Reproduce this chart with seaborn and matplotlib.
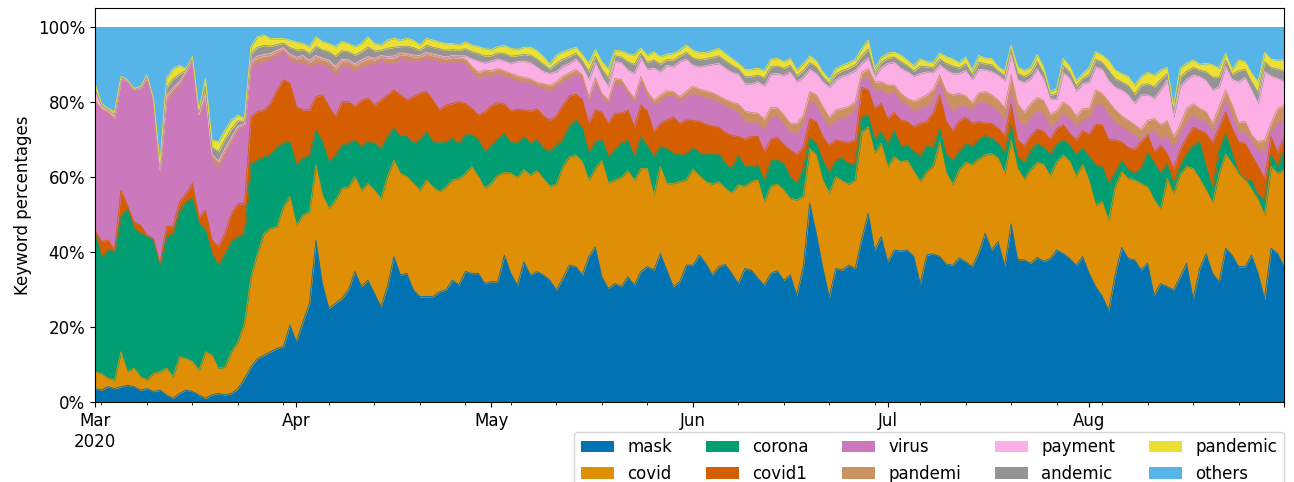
import numpy as np
import pandas as pd
import matplotlib
matplotlib.use("Agg")
import matplotlib.pyplot as plt
from matplotlib.patches import Patch
from matplotlib.ticker import PercentFormatter
import seaborn as sns

dates = pd.date_range("2020-03-01", "2020-08-31", freq="D")

keywords = ["mask", "covid", "corona", "covid1", "virus",
            "pandemi", "payment", "andemic", "pandemic", "others"]

# upper edge of the five big bands (cumulative %), one row per month
mask_top = [
    3.6, 3.2, 4.1, 3.6, 4.1, 4.5, 4.1, 3.2, 3.6, 2.8, 3.2, 1.9, 1.0, 2.3, 3.2, 2.8, 1.9, 1.0, 1.9, 2.3, 1.9, 2.3, 3.6, 6.3, 9.4, 11.6, 12.5, 13.4, 14.3, 14.8, 20.5, 16.1,
    21.4, 26.3, 43.2, 31.6, 25.0, 26.3, 27.6, 29.9, 34.8, 30.8, 32.5, 29.0, 25.4, 30.8, 38.8, 33.9, 34.3, 29.9, 28.1, 28.1, 28.1, 29.4, 29.9, 32.5, 31.2, 34.8, 34.3, 34.3, 31.6,
    32.1, 32.1, 39.2, 34.3, 31.2, 37.4, 33.9, 34.8, 33.9, 32.5, 29.9, 33.0, 36.5, 36.1, 33.9, 38.8, 41.4, 33.4, 30.3, 31.6, 30.8, 33.4, 31.2, 34.8, 36.1, 35.2, 39.6, 35.2, 30.8, 32.1, 36.5,
    36.5, 39.2, 37.0, 33.9, 36.1, 36.7, 34.3, 31.6, 35.6, 35.2, 33.0, 31.2, 34.3, 35.0, 32.5, 33.9, 28.5, 36.1, 53.0, 45.0, 36.0, 28.1, 35.6, 35.2, 36.5, 35.6, 43.6, 50.3, 40.5, 44.1,
    37.4, 40.5, 40.3, 40.5, 38.9, 31.6, 39.2, 39.5, 38.8, 36.8, 36.5, 38.4, 37.4, 36.1, 39.8, 45.0, 40.5, 42.8, 36.3, 47.5, 38.0, 37.9, 37.0, 38.6, 37.5, 38.3, 40.5, 39.6, 38.3, 36.5, 38.8, 34.3,
    30.8, 28.3, 24.5, 33.9, 41.2, 38.3, 37.9, 35.2, 37.0, 28.5, 31.6, 30.8, 29.9, 33.4, 37.0, 27.6, 35.6, 39.6, 34.3, 32.1, 41.0, 39.2, 36.1, 36.1, 39.2, 34.3, 27.6, 41.0, 39.6, 36.1,
]
covid_top = [
    8.1, 7.6, 6.3, 5.9, 13.4, 8.1, 9.0, 6.8, 5.9, 7.6, 8.1, 9.0, 6.8, 12.1, 11.6, 10.8, 8.5, 13.4, 12.5, 9.0, 9.4, 13.4, 16.1, 21.0, 33.4, 39.6, 45.0, 46.3, 46.8, 52.1, 54.8, 47.2,
    49.9, 50.8, 63.2, 55.2, 51.6, 53.9, 57.0, 57.4, 60.1, 56.5, 58.3, 56.5, 54.3, 60.1, 64.5, 61.0, 60.1, 58.3, 56.5, 59.2, 57.4, 56.1, 57.4, 59.2, 59.6, 61.0, 62.8, 60.1, 57.0,
    58.5, 60.5, 61.2, 61.0, 59.9, 62.0, 60.5, 61.7, 59.6, 57.6, 58.1, 62.8, 65.4, 65.9, 64.1, 59.2, 62.3, 64.4, 58.5, 59.2, 59.9, 61.7, 59.2, 62.3, 62.3, 55.2, 62.8, 58.3, 58.3, 58.8, 59.2,
    62.1, 60.3, 58.8, 58.1, 58.8, 57.0, 55.8, 57.9, 57.6, 58.8, 59.2, 53.4, 57.6, 58.1, 56.5, 54.3, 53.9, 54.8, 67.6, 65.9, 59.2, 55.8, 60.1, 59.0, 58.1, 59.2, 72.1, 73.4, 66.5, 69.0,
    62.8, 65.4, 64.1, 64.4, 61.6, 58.8, 61.4, 62.9, 69.4, 61.2, 58.1, 62.0, 63.9, 63.4, 64.8, 65.9, 66.3, 65.0, 61.0, 69.9, 62.3, 59.4, 62.1, 63.9, 63.4, 60.3, 64.1, 65.9, 64.2, 60.3, 63.4, 59.0,
    52.5, 53.4, 48.5, 57.4, 61.4, 59.6, 59.2, 58.3, 57.4, 54.0, 51.4, 59.6, 55.6, 60.8, 62.8, 62.3, 59.6, 56.5, 53.2, 61.0, 66.1, 63.6, 61.2, 59.4, 56.7, 54.0, 49.9, 62.8, 61.0, 61.9,
]
corona_top = [
    45.0, 38.8, 40.5, 40.1, 49.4, 51.6, 46.3, 45.0, 44.1, 43.2, 36.5, 44.1, 45.0, 50.8, 53.4, 54.3, 47.6, 45.9, 39.6, 36.5, 39.6, 42.8, 44.1, 45.0, 63.6, 64.5, 65.4, 65.9, 68.1, 69.0, 69.4, 63.2,
    65.0, 65.9, 72.5, 69.4, 64.1, 65.9, 68.5, 69.0, 69.9, 68.1, 69.4, 69.0, 67.6, 70.8, 73.0, 70.8, 70.8, 69.0, 69.9, 72.1, 69.4, 69.0, 69.4, 70.3, 69.0, 71.2, 71.2, 69.9, 66.8,
    68.5, 70.3, 71.5, 69.2, 69.0, 70.8, 69.0, 70.1, 67.6, 66.8, 68.5, 70.1, 73.6, 75.2, 73.1, 66.5, 69.4, 70.1, 65.6, 67.2, 69.0, 69.8, 65.4, 70.8, 68.3, 65.4, 68.1, 67.6, 66.3, 66.0, 66.3,
    67.8, 66.5, 66.0, 66.0, 66.3, 63.6, 62.4, 65.8, 62.8, 62.8, 63.2, 59.1, 64.2, 64.5, 63.6, 60.0, 58.3, 62.3, 70.5, 69.0, 64.5, 61.2, 64.5, 65.0, 63.6, 63.6, 76.3, 76.5, 70.0, 72.1,
    68.8, 72.4, 68.3, 68.5, 66.8, 65.6, 68.3, 67.9, 73.0, 66.0, 64.3, 66.9, 68.8, 68.3, 70.1, 71.1, 70.3, 69.0, 66.6, 73.9, 65.4, 63.8, 67.0, 68.8, 67.9, 66.0, 68.8, 69.9, 68.4, 66.0, 67.6, 65.5,
    63.2, 62.8, 58.3, 61.2, 64.4, 62.0, 61.0, 62.3, 66.5, 63.8, 61.0, 63.5, 58.3, 62.9, 66.3, 68.3, 69.4, 62.8, 56.7, 67.2, 71.5, 66.5, 61.0, 57.6, 59.0, 55.2, 53.9, 65.9, 62.9, 67.2,
]
covid1_top = [
    45.9, 42.8, 43.2, 40.5, 56.5, 52.5, 48.1, 47.2, 44.5, 43.6, 37.0, 46.8, 46.8, 53.4, 55.6, 58.3, 49.4, 51.2, 43.2, 41.4, 45.0, 50.3, 52.9, 52.9, 76.1, 77.4, 77.9, 79.6, 83.2, 85.9, 85.0, 78.8,
    77.9, 77.9, 81.4, 81.9, 78.8, 76.1, 80.1, 80.1, 78.8, 80.5, 81.0, 79.2, 80.5, 81.9, 83.2, 81.9, 80.5, 81.4, 82.3, 82.8, 80.5, 77.9, 79.2, 79.6, 80.1, 79.6, 78.3, 76.5, 77.4,
    79.0, 79.8, 79.5, 77.6, 78.1, 77.9, 77.6, 78.2, 76.3, 75.2, 76.4, 79.2, 81.6, 82.1, 80.7, 74.3, 77.9, 77.3, 74.3, 77.0, 77.0, 77.9, 73.4, 79.2, 77.6, 72.1, 74.3, 75.2, 76.0, 74.3, 75.2,
    75.1, 74.8, 74.1, 73.6, 73.2, 71.9, 71.1, 70.8, 70.1, 70.8, 70.8, 66.8, 70.0, 70.6, 68.6, 67.2, 66.0, 68.0, 75.6, 74.8, 70.8, 68.3, 69.9, 69.5, 69.2, 69.9, 83.9, 83.2, 78.3, 79.6,
    75.6, 77.2, 75.2, 74.8, 73.4, 74.3, 74.8, 77.2, 81.9, 74.9, 72.4, 75.0, 75.9, 74.3, 74.8, 74.4, 74.3, 73.0, 71.0, 79.6, 69.9, 68.3, 71.0, 72.8, 72.2, 70.0, 72.9, 73.9, 71.7, 70.0, 72.4, 71.3,
    74.1, 73.9, 70.0, 69.9, 69.4, 67.9, 67.4, 69.4, 71.5, 66.8, 68.5, 66.3, 62.3, 67.2, 70.6, 73.2, 72.5, 71.6, 69.2, 73.2, 77.4, 73.0, 69.2, 67.2, 65.9, 62.9, 59.6, 70.8, 66.5, 70.8,
]
virus_top = [
    79.6, 77.9, 77.0, 75.2, 85.9, 85.4, 83.2, 83.6, 86.3, 80.5, 61.4, 80.1, 82.3, 84.1, 87.6, 91.2, 76.1, 80.5, 64.5, 62.3, 65.9, 69.0, 72.5, 73.4, 89.4, 90.3, 90.8, 91.2, 92.5, 93.4, 91.2, 90.3,
    90.8, 89.4, 90.3, 89.9, 89.4, 87.2, 89.4, 89.4, 88.1, 89.4, 89.9, 89.9, 91.2, 90.3, 90.3, 91.6, 91.2, 90.8, 91.2, 91.6, 91.2, 90.8, 90.3, 90.8, 90.8, 90.3, 88.1, 86.3, 87.2,
    86.9, 87.6, 86.9, 86.3, 85.6, 85.3, 85.0, 84.1, 83.5, 83.2, 84.1, 85.4, 86.4, 87.3, 85.9, 80.3, 85.1, 81.3, 79.2, 85.0, 84.7, 82.3, 79.6, 85.4, 81.4, 79.2, 80.3, 81.4, 81.6, 80.4, 81.5,
    82.3, 81.6, 81.2, 80.7, 79.8, 78.9, 78.1, 77.2, 74.8, 74.4, 74.4, 72.4, 75.8, 76.2, 74.0, 72.1, 71.6, 74.1, 80.3, 79.2, 76.1, 73.2, 75.2, 75.6, 76.1, 77.9, 86.1, 86.3, 83.0, 83.2,
    81.9, 82.8, 80.1, 79.2, 77.6, 78.3, 78.8, 80.3, 85.4, 80.1, 77.6, 78.8, 78.8, 78.0, 79.9, 79.7, 78.8, 77.5, 75.0, 82.8, 75.6, 73.6, 76.0, 77.3, 76.8, 73.6, 74.5, 76.9, 75.7, 73.6, 75.1, 75.8,
    79.2, 79.2, 76.5, 74.5, 73.4, 72.1, 71.2, 69.9, 71.2, 72.4, 70.3, 70.7, 68.1, 71.6, 74.8, 76.3, 75.2, 74.8, 72.1, 75.9, 80.7, 76.5, 71.8, 70.3, 69.4, 67.2, 66.8, 72.1, 74.3, 75.2,
]

# thin bands: thickness in %
pandemi = [
    0.8, 0.3, 0.3, 0.5, 0.2, 0.1, 0.1, 0.1, 0.2, 0.1, 0.5, 1.2, 1.2, 1.0, 0.3, 0.2, 0.4, 1.2, 1.3, 1.6, 1.4, 1.3, 0.9, 0.5, 1.2, 1.5, 1.5, 1.3, 1.0, 0.8, 1.2, 1.2,
    1.2, 1.3, 1.6, 1.4, 1.4, 1.8, 1.5, 1.4, 1.6, 1.4, 1.7, 1.3, 0.9, 1.4, 1.5, 1.1, 1.3, 1.3, 0.9, 1.2, 1.2, 1.2, 1.2, 1.1, 1.0, 1.2, 1.4, 1.6, 1.4,
    1.4, 1.3, 1.4, 1.3, 1.4, 1.3, 1.2, 1.1, 1.4, 1.2, 1.3, 1.5, 1.4, 1.4, 1.3, 1.1, 1.4, 1.0, 1.3, 1.3, 1.3, 0.9, 1.4, 1.4, 1.4, 1.3, 1.6, 1.6, 1.2, 1.0, 1.4,
    1.9, 1.8, 1.8, 1.8, 1.8, 1.8, 1.8, 2.3, 2.8, 2.8, 2.6, 3.0, 2.7, 2.3, 2.6, 2.2, 2.7, 2.3, 2.5, 2.7, 2.7, 2.7, 2.7, 2.7, 2.7, 2.2, 1.8, 2.6, 2.4, 2.2,
    2.6, 1.7, 2.2, 1.8, 2.6, 2.7, 3.1, 3.1, 1.8, 2.7, 4.3, 3.5, 2.8, 1.8, 2.6, 3.1, 3.1, 3.0, 3.4, 4.4, 4.0, 3.6, 3.6, 3.9, 3.6, 3.1, 3.1, 3.1, 3.1, 2.7, 3.1, 2.5,
    4.0, 3.1, 3.6, 3.4, 2.9, 3.1, 2.7, 2.8, 3.6, 3.2, 3.6, 4.3, 2.7, 2.3, 3.5, 3.2, 3.1, 2.6, 2.2, 2.9, 2.5, 2.7, 2.5, 2.7, 1.8, 2.2, 3.1, 2.2, 3.9, 4.0,
]
payment = [
    2.2, 0.6, 0.4, 0.5, 0.1, 0.1, 0.0, 0.1, 0.1, 0.1, 0.2, 0.3, 0.3, 0.3, 0.1, 0.1, 0.1, 0.3, 0.3, 0.3, 0.3, 0.3, 0.2, 0.2, 0.3, 0.4, 0.4, 0.4, 0.3, 0.3, 0.3, 0.4,
    0.4, 0.4, 0.5, 0.4, 0.4, 0.5, 0.5, 0.4, 0.5, 0.4, 0.5, 0.4, 0.3, 0.4, 0.5, 0.4, 0.4, 0.4, 0.3, 0.4, 0.4, 0.4, 0.5, 0.5, 0.5, 0.8, 2.0, 3.0, 1.8,
    2.6, 2.6, 2.6, 2.7, 3.8, 4.3, 4.3, 4.1, 3.2, 3.2, 2.7, 2.7, 2.5, 2.8, 2.2, 4.5, 4.0, 4.5, 3.6, 4.5, 4.5, 5.3, 6.6, 4.9, 5.9, 8.5, 6.2, 6.8, 6.6, 9.4, 8.5,
    5.6, 6.0, 6.7, 7.5, 8.7, 8.3, 8.0, 7.9, 7.3, 7.6, 8.4, 8.9, 8.9, 9.1, 10.5, 13.7, 11.1, 10.2, 5.9, 5.7, 6.6, 8.0, 8.0, 8.6, 8.7, 8.3, 2.4, 2.8, 1.4, 3.8,
    5.8, 6.1, 6.7, 7.1, 6.7, 6.6, 6.1, 4.5, 2.7, 5.7, 5.7, 5.3, 6.8, 6.2, 6.2, 5.8, 6.2, 6.7, 7.2, 5.3, 6.3, 8.0, 6.6, 7.6, 5.7, 4.2, 3.1, 7.8, 7.6, 6.6, 6.7, 7.0,
    6.2, 6.4, 5.6, 6.0, 6.9, 6.7, 5.7, 9.2, 6.8, 5.4, 9.3, 10.9, 5.3, 10.2, 7.7, 7.7, 8.5, 8.3, 8.9, 5.3, 6.2, 6.8, 10.9, 11.7, 12.0, 10.2, 18.2, 12.6, 8.1, 6.2,
]
andemic = [
    0.9, 0.3, 0.2, 0.4, 0.2, 0.1, 0.1, 0.1, 0.2, 0.1, 0.6, 2.2, 2.4, 2.0, 0.4, 0.2, 0.5, 2.0, 1.8, 2.6, 2.4, 2.2, 1.4, 0.7, 1.9, 2.4, 2.4, 2.0, 1.5, 1.2, 1.8, 2.0,
    1.6, 1.8, 2.4, 2.2, 2.2, 2.7, 2.3, 2.2, 2.3, 2.2, 2.6, 2.0, 1.4, 2.2, 2.3, 1.7, 2.0, 2.0, 1.4, 1.9, 1.8, 1.8, 1.8, 1.6, 1.5, 1.9, 1.9, 2.0, 1.9,
    1.5, 1.6, 2.0, 1.9, 1.6, 1.8, 2.0, 2.2, 2.0, 1.2, 2.2, 1.9, 1.8, 1.5, 1.6, 2.2, 1.7, 2.0, 2.3, 1.5, 1.5, 2.2, 2.4, 1.3, 1.9, 2.2, 2.0, 1.5, 1.8, 1.5, 1.8,
    2.0, 1.9, 1.8, 1.9, 2.0, 2.0, 1.9, 1.5, 1.9, 2.0, 1.8, 2.1, 2.0, 2.0, 1.9, 1.8, 1.6, 1.8, 1.8, 1.7, 1.4, 1.1, 1.5, 1.5, 1.5, 1.5, 2.0, 2.4, 1.1, 1.4,
    1.4, 1.4, 1.8, 1.6, 1.4, 2.0, 1.4, 1.3, 1.6, 1.8, 2.0, 1.5, 1.8, 1.3, 1.9, 1.6, 1.8, 1.1, 1.4, 1.4, 1.8, 1.6, 1.5, 2.0, 1.6, 1.0, 1.5, 1.9, 1.6, 1.4, 1.4, 2.0,
    2.0, 1.9, 2.7, 2.3, 2.2, 2.5, 2.5, 2.5, 3.0, 3.1, 2.7, 1.7, 1.4, 2.5, 2.2, 2.0, 1.7, 2.3, 3.4, 2.5, 1.8, 1.4, 2.9, 2.2, 2.2, 2.9, 2.6, 2.3, 2.5, 2.9,
]
pandemic = [
    1.5, 0.5, 0.4, 0.8, 0.4, 0.2, 0.2, 0.2, 0.4, 0.2, 0.9, 2.5, 2.7, 2.4, 0.5, 0.4, 0.8, 2.3, 2.0, 2.6, 2.5, 2.4, 1.5, 0.8, 2.0, 2.8, 2.8, 2.0, 1.6, 1.2, 2.0, 2.1,
    1.6, 1.9, 2.6, 2.2, 2.2, 2.6, 2.4, 2.2, 2.3, 2.2, 2.7, 2.0, 1.4, 2.2, 2.4, 1.7, 2.1, 2.0, 1.4, 1.9, 1.9, 1.8, 1.8, 1.6, 1.4, 1.8, 1.8, 1.9, 1.9,
    1.6, 1.7, 2.2, 2.1, 1.6, 1.9, 2.1, 2.2, 2.0, 1.3, 2.2, 1.9, 1.9, 1.6, 1.6, 2.2, 1.8, 2.0, 2.3, 1.5, 1.6, 2.2, 2.5, 1.3, 1.9, 2.2, 2.0, 1.5, 1.8, 1.6, 2.0,
    2.0, 1.9, 1.7, 1.8, 2.0, 1.9, 1.8, 1.5, 1.9, 1.9, 1.8, 2.0, 2.0, 2.0, 1.8, 1.8, 1.5, 1.8, 1.8, 1.7, 1.3, 1.0, 1.5, 1.4, 1.5, 1.5, 2.0, 2.4, 1.1, 1.3,
    1.3, 1.3, 1.7, 1.5, 1.3, 1.9, 1.4, 1.3, 1.5, 1.8, 1.9, 1.4, 1.8, 1.2, 1.8, 1.5, 1.7, 1.1, 1.3, 1.3, 1.7, 1.6, 1.5, 1.9, 1.5, 0.9, 1.4, 1.9, 1.6, 1.4, 1.3, 1.9,
    2.0, 1.9, 2.6, 2.3, 2.2, 2.4, 2.4, 2.4, 3.0, 3.0, 2.6, 1.7, 1.3, 2.4, 2.1, 2.0, 1.6, 2.3, 3.3, 2.4, 1.8, 1.3, 2.9, 2.1, 2.2, 2.9, 2.5, 2.2, 2.4, 2.9,
]

tops = np.array([mask_top, covid_top, corona_top, covid1_top, virus_top])
big = np.clip(np.diff(tops, axis=0, prepend=0), 0, None)
thin = np.array([pandemi, payment, andemic, pandemic])
shares = np.vstack([big, thin])
others = np.clip(100 - shares.sum(axis=0), 0, None)
df = pd.DataFrame(np.vstack([shares, others]).T, index=dates, columns=keywords)

palette = sns.color_palette("colorblind", 10)

fig, ax = plt.subplots(figsize=(12.94, 4.82), dpi=100)
fig.subplots_adjust(left=0.0734, right=0.9923, top=0.983, bottom=0.166)

df.plot.area(ax=ax, color=palette, linewidth=0.6, legend=False)

ax.set_ylim(0, 105)
ax.yaxis.set_major_formatter(PercentFormatter(100, decimals=0))
ax.set_ylabel("Keyword percentages", fontsize=12)
ax.set_xlabel("")
ax.tick_params(axis="both", which="major", labelsize=12)

handles = [Patch(facecolor=c, label=k) for c, k in zip(palette, keywords)]
ax.legend(handles=handles, ncol=5, loc="upper right", bbox_to_anchor=(1.0, -0.075),
          borderaxespad=0, fontsize=12)

fig.savefig("out.png", dpi=100)
